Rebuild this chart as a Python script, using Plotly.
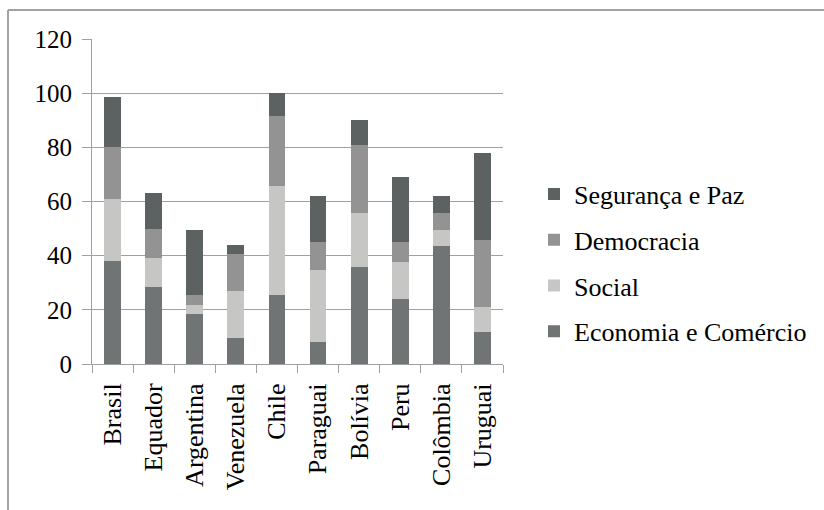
import plotly.graph_objects as go

countries = ["Brasil", "Equador", "Argentina", "Venezuela", "Chile",
             "Paraguai", "Bolívia", "Peru", "Colômbia", "Uruguai"]
economia = [38, 28.6, 18.5, 9.6, 25.6, 8.1, 35.9, 24.1, 43.7, 11.9]
social = [23, 10.7, 3.4, 17.4, 40, 26.7, 20, 13.7, 5.9, 9.2]
democracia = [19, 10.7, 3.7, 13.7, 25.9, 10.4, 24.8, 7.4, 6.3, 24.8]
seguranca = [18.5, 13, 23.7, 3.3, 8.5, 16.7, 9.3, 23.7, 6.3, 31.9]

series = [
    ("Economia e Comércio", economia, "#707474", 4),
    ("Social", social, "#c6c6c4", 3),
    ("Democracia", democracia, "#939393", 2),
    ("Segurança e Paz", seguranca, "#5c6261", 1),
]

fig = go.Figure()
for name, vals, col, rank in series:
    fig.add_trace(go.Bar(x=countries, y=vals, name=name, marker_color=col,
                         marker_line_width=0, legendgroup=name,
                         legendrank=rank))

W, H = 824, 510
L, R, T, B = 92, 321, 39, 146
pw, ph = W - L - R, H - T - B

def px(x):
    return (x - L) / pw

def py(y):
    return (H - B - y) / ph

border = "#a3a3a3"
fig.add_shape(type="line", xref="paper", yref="paper", x0=px(8), x1=px(8),
              y0=py(10), y1=py(515), line=dict(color=border, width=2))
fig.add_shape(type="line", xref="paper", yref="paper", x0=px(8), x1=px(830),
              y0=py(10), y1=py(10), line=dict(color=border, width=2))

fam = "Liberation Serif"
font = dict(family=fam, size=25, color="black")
font26 = dict(family=fam, size=26, color="black")
fig.update_layout(
    barmode="stack",
    width=W, height=H,
    margin=dict(l=L, r=R, t=T, b=B, autoexpand=False),
    paper_bgcolor="white", plot_bgcolor="white",
    font=font,
    bargap=0.59,
    legend=dict(traceorder="grouped", tracegroupgap=9,
                x=px(534), xanchor="left", y=py(263), yanchor="middle",
                font=font26, itemwidth=30),
    yaxis=dict(range=[0, 120], dtick=20, showgrid=True, gridcolor="#a0a0a0",
               gridwidth=1, showline=True, linecolor="#a0a0a0", linewidth=1,
               ticks="outside", ticklen=9, tickcolor="#a0a0a0", zeroline=False,
               tickfont=font, ticklabelstandoff=5),
    xaxis=dict(showline=True, linecolor="#a0a0a0", linewidth=1, ticks="outside",
               tickson="boundaries", ticklen=8, tickcolor="#a0a0a0",
               tickangle=-90, tickfont=font26, ticklabelstandoff=8),
)

fig.write_html("out.html")
